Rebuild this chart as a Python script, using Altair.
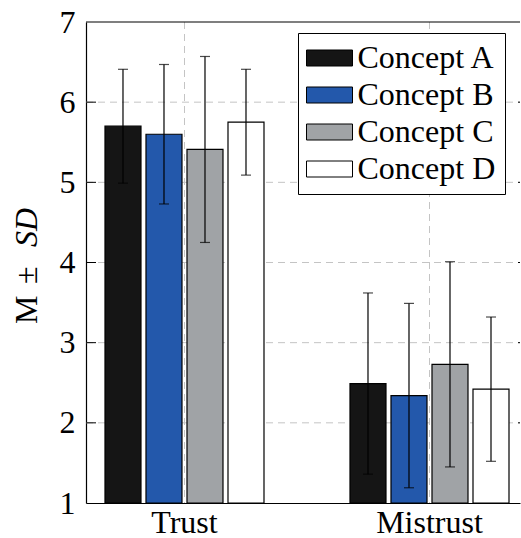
import altair as alt
import pandas as pd

FONT = "Liberation Serif, Times New Roman, serif"
FS = 32

categories = ["Trust", "Mistrust"]
concepts = ["Concept A", "Concept B", "Concept C", "Concept D"]
colors = ["#151515", "#2358ab", "#a0a3a6", "#ffffff"]
trust_means = [5.70, 5.60, 5.41, 5.75]
trust_sd = [0.71, 0.87, 1.16, 0.66]
mistrust_means = [2.49, 2.34, 2.73, 2.42]
mistrust_sd = [1.13, 1.15, 1.28, 0.90]
y_ticks = [1, 2, 3, 4, 5, 6, 7]
grid_y = [2, 3, 4, 5, 6]

rows = []
for cat, means, sds in [("Trust", trust_means, trust_sd), ("Mistrust", mistrust_means, mistrust_sd)]:
    for c, m, s in zip(concepts, means, sds):
        rows.append({"cat": cat, "concept": c, "mean": m, "lo": m - s, "hi": m + s})
df = pd.DataFrame(rows)

W, H = 434, 481

xscale = alt.Scale(domain=categories, paddingInner=0.2612, paddingOuter=0.0163, align=1)
xoff_scale = alt.Scale(domain=concepts, paddingInner=0.122, paddingOuter=0.2683)
yscale = alt.Scale(domain=[1, 7], nice=False, zero=False)

x_enc = alt.X("cat:N", scale=xscale, sort=categories,
              axis=alt.Axis(title=None, labelFont=FONT, labelFontSize=FS, labelColor="black",
                            labelPadding=4, labelBaseline="top", labelAlign="center",
                            ticks=False, grid=False,
                            domainColor="black", domainWidth=1.2, labelAngle=0))
y_enc = alt.Y("mean:Q", scale=yscale,
              axis=alt.Axis(title=None, values=y_ticks, format="d", labelFont=FONT,
                            labelFontSize=FS, labelColor="black", labelPadding=11,
                            ticks=False, grid=False, domainColor="black", domainWidth=1.2))

base = alt.Chart(df)

# vertical dashed grid at category centres
vgrid = alt.Chart(pd.DataFrame({"cat": categories})).mark_rule(
    color="#c4c4c4", strokeDash=[7, 5], strokeWidth=1
).encode(x=alt.X("cat:N", scale=xscale, sort=categories), y=alt.value(0), y2=alt.value(H))

# horizontal dashed grid
hgrid = alt.Chart(pd.DataFrame({"v": grid_y})).mark_rule(
    color="#c4c4c4", strokeDash=[7, 5], strokeWidth=1
).encode(y=alt.Y("v:Q", scale=yscale), x=alt.value(0), x2=alt.value(W))

bars = base.mark_bar(stroke="black", strokeWidth=1.2, opacity=1).encode(
    x=x_enc,
    xOffset=alt.XOffset("concept:N", scale=xoff_scale, sort=concepts),
    y=y_enc,
    y2=alt.datum(1),
    fill=alt.Fill("concept:N", scale=alt.Scale(domain=concepts, range=colors),
                  legend=alt.Legend(title=None, orient="none", legendX=212, legendY=11,
                                    symbolType="M-2.875,-1H2.875V1H-2.875Z", symbolSize=256,
                                    symbolStrokeColor="black", symbolStrokeWidth=1,
                                    symbolOpacity=1, symbolOffset=6.5,
                                    labelFont=FONT, labelFontSize=FS, labelColor="black",
                                    labelOffset=12, labelLimit=0, padding=9, rowPadding=5,
                                    fillColor="white", strokeColor="black")),
)

err = base.mark_rule(color="black", strokeWidth=1.2).encode(
    x=alt.X("cat:N", scale=xscale, sort=categories),
    xOffset=alt.XOffset("concept:N", scale=xoff_scale, sort=concepts),
    y=alt.Y("lo:Q", scale=yscale),
    y2="hi:Q",
)
cap_lo = base.mark_tick(color="black", thickness=1.2, size=10, orient="horizontal").encode(
    x=alt.X("cat:N", scale=xscale, sort=categories),
    xOffset=alt.XOffset("concept:N", scale=xoff_scale, sort=concepts),
    y=alt.Y("lo:Q", scale=yscale),
)
cap_hi = base.mark_tick(color="black", thickness=1.2, size=10, orient="horizontal").encode(
    x=alt.X("cat:N", scale=xscale, sort=categories),
    xOffset=alt.XOffset("concept:N", scale=xoff_scale, sort=concepts),
    y=alt.Y("hi:Q", scale=yscale),
)

# inward tick marks on left and right
ticks_df = pd.DataFrame({"v": grid_y})
lticks = alt.Chart(ticks_df).mark_rule(color="black", strokeWidth=1).encode(
    y=alt.Y("v:Q", scale=yscale), x=alt.value(0), x2=alt.value(10))
rticks = alt.Chart(ticks_df).mark_rule(color="black", strokeWidth=1).encode(
    y=alt.Y("v:Q", scale=yscale), x=alt.value(W - 2), x2=alt.value(W))

# top frame line
top = alt.Chart(pd.DataFrame({"v": [7]})).mark_rule(color="black", strokeWidth=1.2).encode(
    y=alt.Y("v:Q", scale=yscale), x=alt.value(0), x2=alt.value(W))

# y title: "M ±" upright + "SD" italic
t_m = alt.Chart(pd.DataFrame({"t": ["M"]})).mark_text(
    angle=270, font=FONT, fontSize=FS, align="left", baseline="alphabetic", color="black"
).encode(text="t:N", x=alt.value(-49), y=alt.value(302))
t_pm = alt.Chart(pd.DataFrame({"t": ["±"]})).mark_text(
    angle=270, font=FONT, fontSize=FS, align="left", baseline="alphabetic", color="black"
).encode(text="t:N", x=alt.value(-49), y=alt.value(262))
t_sd = alt.Chart(pd.DataFrame({"t": ["SD"]})).mark_text(
    angle=270, font=FONT, fontSize=FS, fontStyle="italic", align="left",
    baseline="alphabetic", color="black"
).encode(text="t:N", x=alt.value(-49), y=alt.value(225))

chart = alt.layer(vgrid, hgrid, bars, err, cap_lo, cap_hi, lticks, rticks, top,
                  t_m, t_pm, t_sd).properties(
    width=W, height=H,
    padding={"left": 86, "top": 22, "right": 1, "bottom": 35},
    autosize=alt.AutoSizeParams(type="none"),
).configure_view(stroke=None).configure_axis(labelFont=FONT).configure_text(font=FONT)

chart.save("out.html", embed_options={"renderer": "svg", "actions": False})
